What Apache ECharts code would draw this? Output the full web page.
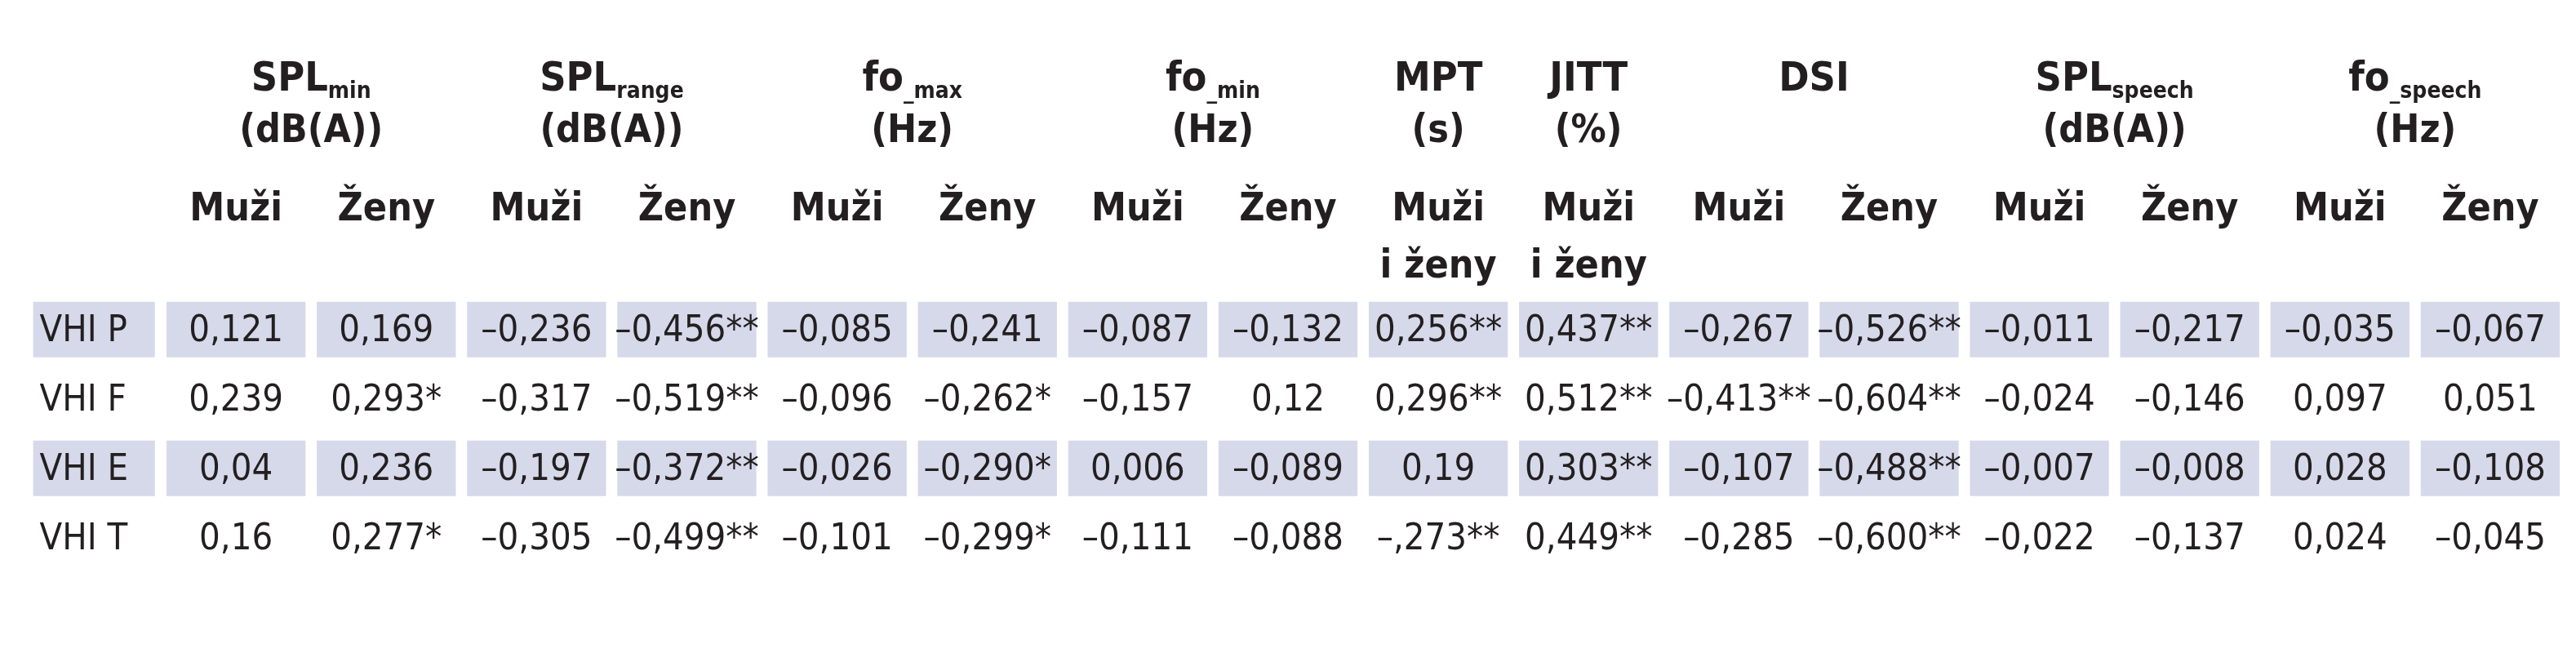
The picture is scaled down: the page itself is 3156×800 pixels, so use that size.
<!DOCTYPE html>
<html>
<head>
<meta charset="utf-8">
<script src="https://cdn.jsdelivr.net/npm/echarts@6/dist/echarts.min.js"></script>
<style>
  html, body { margin: 0; padding: 0; background: #fff; }
  #chart { width: 3156px; height: 800px; }
</style>
</head>
<body>
<div id="chart"></div>
<script>
  "use strict";
  var rowLabels = ['VHI P', 'VHI F', 'VHI E', 'VHI T'];
  var shadedRows = [0, 2];
  var groups = [
    {name: 'SPL', sub: 'min', unit: '(dB(A))', from: 0, to: 1},
    {name: 'SPL', sub: 'range', unit: '(dB(A))', from: 2, to: 3},
    {name: 'fo', sub: '_max', unit: '(Hz)', from: 4, to: 5},
    {name: 'fo', sub: '_min', unit: '(Hz)', from: 6, to: 7},
    {name: 'MPT', sub: '', unit: '(s)', from: 8, to: 8},
    {name: 'JITT', sub: '', unit: '(%)', from: 9, to: 9},
    {name: 'DSI', sub: '', unit: '', from: 10, to: 11},
    {name: 'SPL', sub: 'speech', unit: '(dB(A))', from: 12, to: 13},
    {name: 'fo', sub: '_speech', unit: '(Hz)', from: 14, to: 15}
  ];
  var colHeads = ['Muži', 'Ženy', 'Muži', 'Ženy', 'Muži', 'Ženy', 'Muži', 'Ženy',
    'Muži\ni ženy', 'Muži\ni ženy', 'Muži', 'Ženy', 'Muži', 'Ženy', 'Muži', 'Ženy'];
  var vhiP = ['0,121', '0,169', '–0,236', '–0,456**', '–0,085', '–0,241', '–0,087', '–0,132',
    '0,256**', '0,437**', '–0,267', '–0,526**', '–0,011', '–0,217', '–0,035', '–0,067'];
  var vhiF = ['0,239', '0,293*', '–0,317', '–0,519**', '–0,096', '–0,262*', '–0,157', '0,12',
    '0,296**', '0,512**', '–0,413**', '–0,604**', '–0,024', '–0,146', '0,097', '0,051'];
  var vhiE = ['0,04', '0,236', '–0,197', '–0,372**', '–0,026', '–0,290*', '0,006', '–0,089',
    '0,19', '0,303**', '–0,107', '–0,488**', '–0,007', '–0,008', '0,028', '–0,108'];
  var vhiT = ['0,16', '0,277*', '–0,305', '–0,499**', '–0,101', '–0,299*', '–0,111', '–0,088',
    '–,273**', '0,449**', '–0,285', '–0,600**', '–0,022', '–0,137', '0,024', '–0,045'];
  var values = [vhiP, vhiF, vhiE, vhiT];

  var FONT = '"Liberation Sans Narrow", "DejaVu Sans Condensed", "Open Sans", sans-serif';
  var TEXT = '#231f20';
  var FILL = '#d6d9ea';
  var LABEL_X = -0.945;
  var Y_TITLE = -3.6, Y_UNIT = -2.85, Y_HEAD = -1.78;

  var cells = [];
  values.forEach(function (row, r) {
    cells.push([LABEL_X, r, rowLabels[r], 'label']);
    row.forEach(function (v, c) { cells.push([c, r, v, 'cell']); });
  });
  var heads = [];
  groups.forEach(function (g) {
    var cx = (g.from + g.to) / 2;
    heads.push([cx, Y_TITLE, g.sub ? '{b|' + g.name + '}{s|' + g.sub + '}' : '{b|' + g.name + '}', 'title']);
    if (g.unit) heads.push([cx, Y_UNIT, g.unit, 'unit']);
  });
  colHeads.forEach(function (h, c) { heads.push([c, Y_HEAD, h, 'head']); });

  function renderCell(params, api) {
    var x = api.value(0), y = api.value(1), kind = api.value(3);
    var txt = cells[params.dataIndex][2];
    var p = api.coord([x, y]);
    var s = api.size([1, 1]);
    var w = kind === 'label' ? s[0] * 0.81 : s[0] * 0.925;
    var h = s[1] * 0.8;
    var children = [];
    if (shadedRows.indexOf(y) >= 0) {
      children.push({type: 'rect', shape: {x: p[0] - w / 2, y: p[1] - h / 2, width: w, height: h},
        style: {fill: FILL}});
    }
    children.push({type: 'text', style: {
      text: txt, x: kind === 'label' ? p[0] - w / 2 + 8 : p[0], y: p[1] + 2,
      align: kind === 'label' ? 'left' : 'center', verticalAlign: 'middle',
      font: '45px ' + FONT, fill: TEXT
    }});
    return {type: 'group', children: children};
  }

  function renderHead(params, api) {
    var d = heads[params.dataIndex];
    var p = api.coord([d[0], d[1]]);
    var kind = d[3];
    var style = {
      text: d[2], x: p[0], y: p[1], align: 'center', verticalAlign: kind === 'head' ? 'top' : 'middle',
      fontFamily: FONT, fontWeight: 'bold', fontSize: 48, fill: TEXT, lineHeight: 70
    };
    if (kind === 'title') {
      style.rich = {
        b: {fontFamily: FONT, fontWeight: 'bold', fontSize: 50, fill: TEXT},
        s: {fontFamily: FONT, fontWeight: 'bold', fontSize: 28, fill: TEXT, padding: [30, 0, 0, 0]}
      };
    }
    if (kind === 'head') style.y = p[1] - 30;
    return {type: 'text', style: style};
  }

  var option = {
    animation: false,
    grid: {left: 13, right: 13, top: 0, bottom: 0},
    xAxis: {type: 'value', min: -1.5, max: 15.5, show: false},
    yAxis: {type: 'value', min: -4.75, max: 4.66, inverse: true, show: false},
    series: [
      {type: 'custom', renderItem: renderCell, data: cells, encode: {x: 0, y: 1}},
      {type: 'custom', renderItem: renderHead, data: heads, encode: {x: 0, y: 1}}
    ]
  };
  var chart = echarts.init(document.getElementById('chart'));
  chart.setOption(option);
  window.addEventListener('resize', function () { chart.resize(); });
</script>
</body>
</html>
